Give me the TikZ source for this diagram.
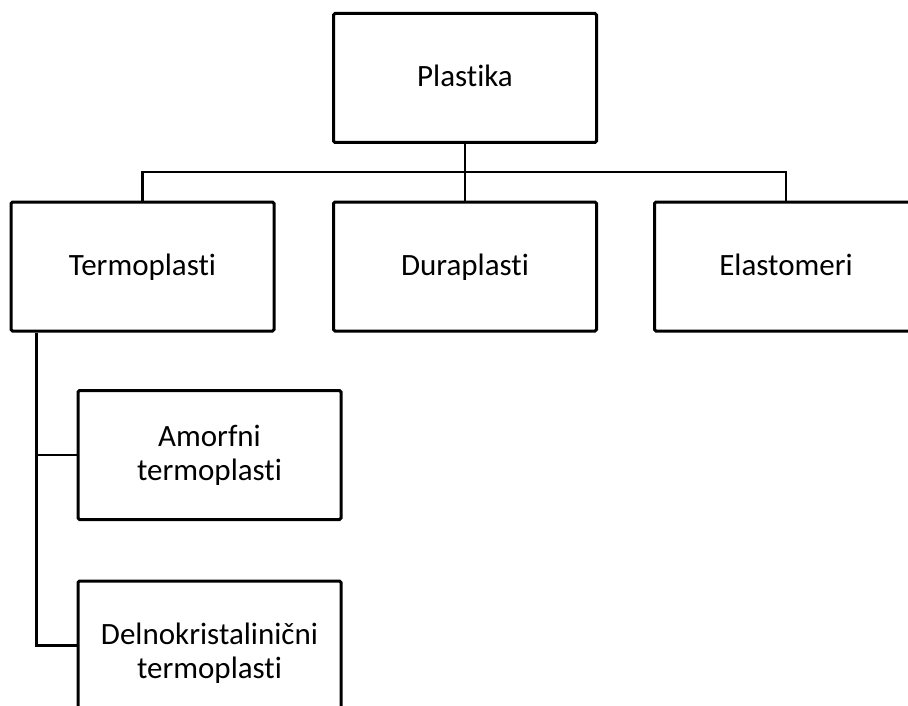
\documentclass[tikz,border=0pt]{standalone}
\usepackage{fontspec}
\setmainfont{Carlito}[Ligatures=NoCommon]
\usepackage{tikz}
\usetikzlibrary{positioning,calc}

\begin{document}
\begin{tikzpicture}[x=1pt, y=-1pt,
		box/.style={draw, line width=3pt, rounded corners=1.5pt, align=center,
			minimum width=263pt, minimum height=129pt, inner sep=0pt,
			font=\fontsize{31}{34}\selectfont},
		oneline/.style={box, text height=25pt, text depth=7pt},
		link/.style={line width=2.2pt}]
		\clip (0,0) rectangle (908,706);
		\node[oneline] (plastika) at (465,78) {Plastika};
		\node[oneline] (termo) at (142.5,266.5) {Termoplasti};
		\node[oneline] (dura) at (465,266.5) {Duraplasti};
		\node[oneline] (elasto) at (786,266.5) {Elastomeri};
		\node[box] (amorf) at (209.5,455) {Amorfni\\termoplasti};
		\node[box, minimum height=145pt, anchor=north] (delno) at (209.5,579.5) {Delnokristalinični\\termoplasti};
		\coordinate (bus) at (465,172);
		\coordinate (trunk) at ([xshift=27pt]termo.south west);
		% veje
		\draw[link] (plastika) -- (dura);
		\draw[link] (termo.north) |- (bus) -| (elasto.north);
		\draw[link] (trunk) |- ([yshift=8pt]delno.west);
		\draw[link] (amorf.west) -- (amorf.west -| trunk);
	\end{tikzpicture}
\end{document}
